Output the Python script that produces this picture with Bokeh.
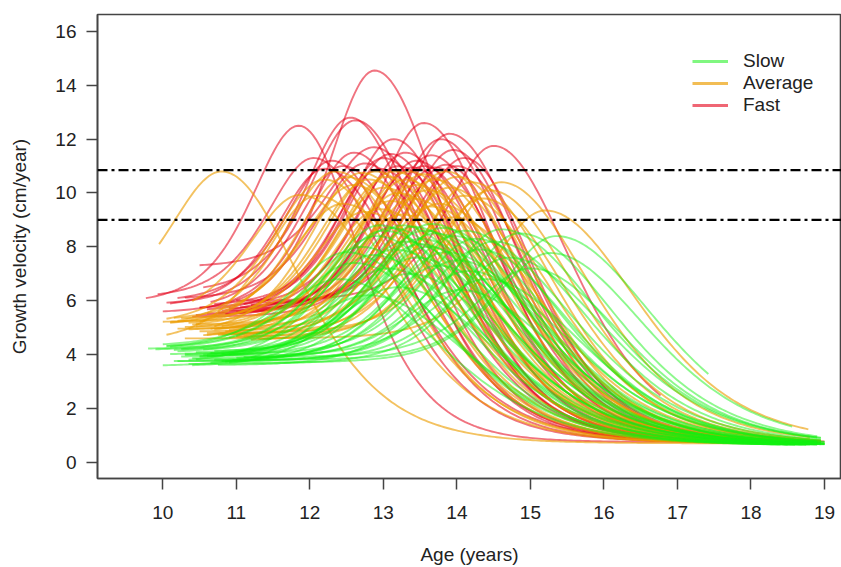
import numpy as np
from bokeh.plotting import figure
from bokeh.models import Span, Legend, LegendItem, FixedTicker
from bokeh.embed import file_html
from bokeh.resources import INLINE

# ---------------- data ----------------
# Each curve: start age, baseline velocity, age at peak, peak velocity, end age, fall width
fast_start_age = [10.50, 9.77, 10.05, 10.55, 10.60, 10.90, 10.40, 11.00, 9.93, 10.00,
                  10.70, 10.50, 10.20, 10.65, 10.80, 11.10, 10.45, 10.90, 11.20, 10.30,
                  10.75, 11.05, 11.30, 10.10, 11.00, 11.40, 10.60, 10.85, 10.50, 11.15]
fast_start_vel = [5.60, 5.90, 5.85, 6.30, 5.50, 5.70, 5.40, 6.00, 6.10, 5.55,
                  5.80, 7.25, 5.95, 5.65, 5.50, 5.75, 5.45, 5.60, 5.80, 6.05,
                  5.50, 5.70, 5.90, 5.75, 5.55, 5.85, 5.60, 5.45, 5.70, 5.65]
fast_peak_age = [12.88, 11.85, 12.55, 12.62, 13.55, 13.90, 13.78, 14.50, 12.05, 12.60,
                 13.14, 12.87, 12.30, 12.45, 13.00, 13.30, 13.45, 13.65, 13.95, 12.75,
                 13.20, 13.55, 14.10, 12.20, 13.70, 14.00, 12.95, 13.40, 13.10, 13.85]
fast_peak_vel = [14.55, 12.50, 12.80, 12.70, 12.60, 12.20, 12.00, 11.75, 11.30, 11.50,
                 12.00, 11.70, 11.20, 11.00, 11.30, 11.50, 11.20, 11.40, 11.60, 11.10,
                 11.00, 11.00, 11.30, 10.90, 10.95, 11.00, 10.90, 10.95, 11.45, 11.05]
fast_end_age = [18.90, 18.50, 18.70, 18.90, 18.80, 18.60, 19.00, 16.77, 18.20, 18.90,
                18.80, 18.50, 18.90, 18.00, 18.70, 18.90, 18.40, 18.80, 18.95, 18.60,
                18.90, 18.30, 18.90, 17.90, 18.70, 18.85, 18.90, 18.50, 18.75, 18.90]
fast_fall = [1.30, 1.10, 1.30, 1.35, 1.35, 1.40, 1.35, 1.44, 1.40, 1.35,
             1.30, 1.40, 1.35, 1.45, 1.35, 1.30, 1.40, 1.35, 1.30, 1.45,
             1.40, 1.35, 1.30, 1.50, 1.40, 1.35, 1.45, 1.40, 1.35, 1.30]

avg_start_age = [9.95, 10.40, 10.60, 10.30, 10.05, 10.20, 10.50, 10.15, 10.70, 10.35,
                 10.10, 10.80, 10.45, 10.25, 10.90, 10.55, 10.00, 11.00, 10.65, 10.30,
                 10.85, 10.40, 11.10, 10.20, 10.75, 10.50, 11.20, 10.95, 10.10, 10.60,
                 10.35, 10.80, 11.30, 10.05, 10.70, 11.00, 10.45, 10.90]
avg_start_vel = [5.50, 5.20, 4.80, 4.60, 5.10, 5.00, 4.90, 5.25, 4.70, 5.05,
                 5.15, 4.85, 4.95, 5.30, 4.75, 4.65, 5.20, 4.55, 4.90, 5.00,
                 4.80, 5.10, 4.60, 4.95, 4.70, 4.85, 4.50, 4.75, 5.05, 4.60,
                 4.90, 4.70, 4.55, 4.45, 4.80, 4.65, 5.00, 4.60]
avg_peak_age = [10.80, 11.87, 14.60, 15.20, 12.20, 12.35, 12.50, 12.60, 12.70, 12.80,
                12.90, 13.00, 13.05, 13.15, 13.20, 13.30, 13.35, 13.40, 13.45, 13.55,
                13.60, 13.70, 13.75, 13.85, 13.90, 14.00, 14.10, 14.20, 12.45, 12.95,
                13.25, 13.65, 14.35, 12.10, 13.10, 14.45, 12.75, 13.95]
avg_peak_vel = [10.80, 9.93, 10.40, 9.35, 10.50, 10.80, 10.60, 10.30, 10.75, 10.50,
                10.80, 10.20, 10.60, 10.80, 10.00, 10.50, 10.80, 9.80, 10.30, 10.70,
                10.10, 10.50, 9.60, 10.80, 10.20, 10.60, 9.90, 10.40, 9.60, 9.40,
                9.20, 9.50, 9.80, 9.90, 9.70, 10.10, 9.30, 9.10]
avg_end_age = [18.20, 18.60, 18.80, 18.78, 18.70, 18.90, 18.50, 18.95, 18.85, 18.40,
               18.90, 18.75, 18.60, 18.95, 18.30, 18.90, 18.85, 18.70, 18.95, 18.50,
               18.90, 18.80, 18.60, 18.95, 18.70, 18.90, 18.40, 18.95, 18.10, 18.85,
               18.90, 18.65, 18.95, 17.80, 18.90, 18.80, 18.50, 18.95]
avg_fall = [1.45, 1.60, 1.65, 1.72, 1.50, 1.55, 1.60, 1.50, 1.55, 1.60,
            1.50, 1.65, 1.55, 1.50, 1.60, 1.55, 1.50, 1.65, 1.55, 1.50,
            1.60, 1.55, 1.70, 1.45, 1.55, 1.50, 1.65, 1.55, 1.60, 1.70,
            1.70, 1.65, 1.60, 1.60, 1.65, 1.60, 1.70, 1.70]

slow_start_age = [9.80, 10.00, 10.40, 10.10, 10.60, 9.90, 10.20, 10.50, 10.30, 10.70,
                  10.15, 10.45, 10.80, 10.05, 10.35, 10.55, 10.25, 10.65, 10.90, 10.40,
                  10.75, 10.20, 10.95, 10.10, 10.60, 10.30, 10.85, 11.00, 10.50, 10.00,
                  10.70, 10.90, 11.10, 10.35, 10.15, 10.55, 10.80, 10.45, 10.25, 11.20,
                  10.65, 10.05]
slow_start_vel = [4.20, 3.57, 3.55, 4.00, 3.90, 4.15, 4.05, 3.85, 3.95, 4.10,
                  3.75, 3.80, 4.00, 4.25, 3.70, 4.10, 3.90, 3.65, 3.95, 3.85,
                  3.60, 3.75, 3.80, 4.20, 3.90, 4.00, 3.70, 3.85, 3.95, 4.30,
                  3.80, 3.70, 3.90, 3.65, 4.10, 3.95, 3.75, 4.05, 4.15, 3.85,
                  4.00, 4.20]
slow_peak_age = [13.10, 13.25, 13.40, 13.55, 13.70, 12.90, 13.00, 13.30, 13.50, 13.80,
                 13.95, 14.10, 14.25, 12.70, 12.85, 13.15, 13.45, 13.60, 13.85, 14.00,
                 14.30, 14.50, 14.70, 12.60, 13.05, 13.35, 13.75, 14.15, 14.40, 12.40,
                 15.35, 15.27, 15.00, 14.85, 12.95, 13.65, 14.60, 13.20, 12.80, 14.05,
                 13.50, 12.50]
slow_peak_vel = [8.70, 8.80, 8.75, 8.60, 8.50, 8.40, 8.60, 8.20, 8.30, 8.70,
                 8.40, 8.60, 8.30, 8.00, 7.70, 7.90, 7.60, 8.00, 7.80, 7.50,
                 7.90, 8.20, 7.60, 7.40, 7.20, 7.00, 7.30, 7.10, 6.80, 6.80,
                 8.40, 7.77, 7.20, 8.50, 8.80, 8.85, 8.65, 6.50, 6.20, 6.40,
                 8.10, 7.80]
slow_end_age = [18.90, 18.95, 19.00, 18.85, 18.95, 18.70, 18.90, 19.00, 18.80, 18.95,
                18.90, 19.00, 18.95, 18.60, 18.90, 18.85, 19.00, 18.95, 18.90, 18.80,
                19.00, 18.95, 18.90, 18.50, 18.90, 19.00, 18.85, 18.95, 18.90, 18.40,
                17.42, 18.56, 18.95, 18.90, 18.80, 19.00, 18.95, 18.70, 18.60, 18.90,
                19.00, 18.75]
slow_fall = [1.80, 1.75, 1.80, 1.85, 1.80, 1.75, 1.80, 1.85, 1.80, 1.75,
             1.85, 1.80, 1.85, 1.75, 1.80, 1.85, 1.80, 1.75, 1.85, 1.80,
             1.75, 1.80, 1.85, 1.80, 1.85, 1.80, 1.75, 1.85, 1.80, 1.85,
             1.83, 1.80, 1.75, 1.80, 1.70, 1.80, 1.85, 1.80, 1.85, 1.80,
             1.75, 1.80]

groups = ["Slow", "Average", "Fast"]
x_ticks = [10, 11, 12, 13, 14, 15, 16, 17, 18, 19]
y_ticks = [0, 2, 4, 6, 8, 10, 12, 14, 16]
cutoffs = [10.85, 9.0]

# ---------------- styling ----------------
FONT = "Liberation Sans"
# colour, alpha, rise width, tail level
COL = {"Fast": ("#E40018", 0.55, 0.85, 0.75),
       "Average": ("#EC9C00", 0.62, 0.95, 0.70),
       "Slow": ("#10F010", 0.48, 1.00, 0.62)}


def curves(sa, sv, pa, pv, ea, fw, rise, tail):
    xs, ys = [], []
    for t0, s, tp, P, t1, wr in zip(sa, sv, pa, pv, ea, fw):
        t = np.linspace(t0, t1, 220)
        d = t - tp
        left = s + (P - s) / np.cosh(d / rise) ** 2
        right = tail + (P - tail) / np.cosh(d / wr) ** 2
        v = np.where(d < 0, left, right)
        xs.append(t.tolist())
        ys.append(v.tolist())
    return xs, ys


p = figure(width=841, height=567, x_range=(9.112, 19.231), y_range=(-0.605, 16.63),
           output_backend="svg", toolbar_location=None,
           min_border_left=97, min_border_right=0, min_border_top=14, min_border_bottom=89)
p.grid.visible = False
p.outline_line_color = "#444444"
p.outline_line_width = 1.6
p.background_fill_color = "white"
p.border_fill_color = "white"

data = {
    "Fast": (fast_start_age, fast_start_vel, fast_peak_age, fast_peak_vel, fast_end_age, fast_fall),
    "Average": (avg_start_age, avg_start_vel, avg_peak_age, avg_peak_vel, avg_end_age, avg_fall),
    "Slow": (slow_start_age, slow_start_vel, slow_peak_age, slow_peak_vel, slow_end_age, slow_fall),
}
for g in ["Fast", "Average", "Slow"]:
    c, a, rise, tail = COL[g]
    xs, ys = curves(*data[g], rise, tail)
    p.multi_line(xs=xs, ys=ys, line_color=c, line_alpha=a, line_width=1.9, line_join="round")

for c in cutoffs:
    p.add_layout(Span(location=c, dimension="width", line_color="black",
                      line_width=2.4, line_dash="10 4 3 4"))

# axes
p.xaxis.ticker = FixedTicker(ticks=x_ticks)
p.yaxis.ticker = FixedTicker(ticks=y_ticks)
for ax in (p.xaxis[0], p.yaxis[0]):
    ax.minor_tick_line_color = None
    ax.major_tick_in = 0
    ax.major_tick_out = 11
    ax.major_tick_line_color = "#444444"
    ax.major_tick_line_width = 1.5
    ax.axis_line_color = "#444444"
    ax.axis_line_width = 1.6
    ax.major_label_text_font = FONT
    ax.major_label_text_font_size = "19px"
    ax.major_label_text_color = "#222222"
    ax.axis_label_text_font = FONT
    ax.axis_label_text_font_size = "19px"
    ax.axis_label_text_font_style = "normal"
    ax.axis_label_text_color = "#222222"

p.xaxis.axis_label = "Age (years)"
p.xaxis.major_label_standoff = 16
p.xaxis.axis_label_standoff = 22
p.yaxis.axis_label = "Growth velocity (cm/year)"
p.yaxis.major_label_standoff = 10
p.yaxis.axis_label_standoff = 22
p.yaxis.major_label_orientation = "horizontal"

# legend (swatch renderers sit outside the visible x range)
items = []
for g in groups:
    c, a, _, _ = COL[g]
    r = p.line(x=[0.0, 0.5], y=[0.0, 0.0], line_color=c, line_alpha=a + 0.05, line_width=3)
    items.append(LegendItem(label=g, renderers=[r]))
legend = Legend(items=items, location=(595, 362), orientation="vertical",
                glyph_width=36, glyph_height=20, label_height=20, label_standoff=15,
                spacing=0, padding=0, margin=0, border_line_color=None,
                background_fill_alpha=0, label_text_font=FONT,
                label_text_font_size="19px", label_text_color="#222222")
p.add_layout(legend)

open("out.html", "w").write(file_html(p, INLINE))
